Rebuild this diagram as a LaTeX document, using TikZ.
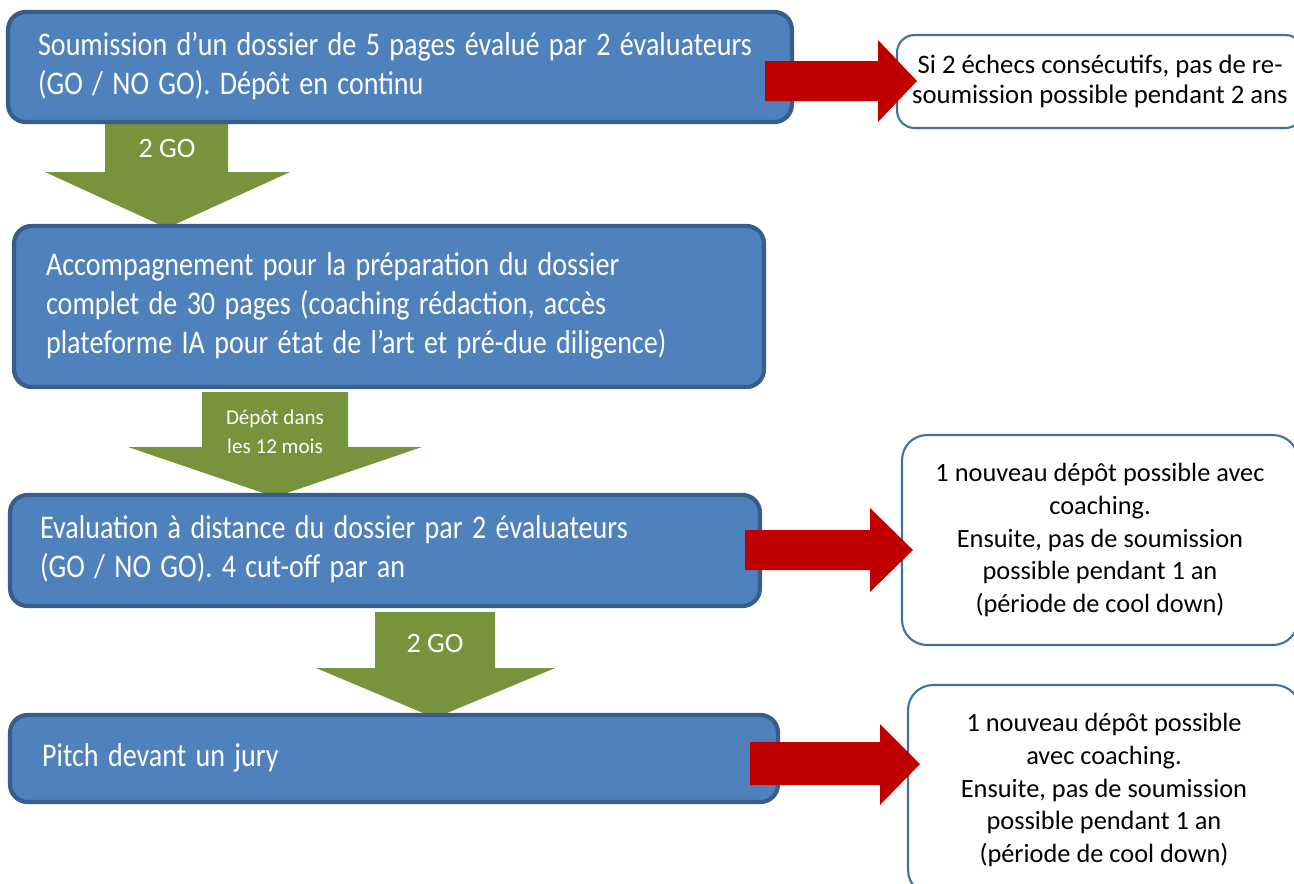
\documentclass[tikz,border=0pt]{standalone}
\usepackage{graphicx}
\usepackage{fontspec}
\setmainfont{Carlito}
\newcommand{\steptext}[1]{\scalebox{0.85}[1]{\renewcommand\arraystretch{1.03}\begin{tabular}{@{}l@{}}#1\end{tabular}}}
\usetikzlibrary{positioning}

\definecolor{stepblue}{HTML}{4F81BD}
\definecolor{stepborder}{HTML}{385D8A}
\definecolor{noteborder}{HTML}{41719C}
\definecolor{gogreen}{HTML}{77933C}
\definecolor{failred}{HTML}{C00000}

\begin{document}
\begin{tikzpicture}[
  x=0.02cm, y=-0.02cm,
  stepbox/.style={draw=stepborder, line width=2.4pt, fill=stepblue, rounded corners=0.35cm,
    text=white, align=left, inner xsep=0pt, font=\fontsize{18.8}{21.5}\selectfont},
  notebox/.style={draw=noteborder, line width=1.2pt, fill=white, rounded corners=0.5cm,
    align=center, font=\fontsize{15}{18.7}\selectfont},
  goarrow/.style={fill=gogreen},
  failarrow/.style={fill=failred},
  golabel/.style={text=white, align=center, font=\fontsize{16}{19}\selectfont}
]
\useasboundingbox (0,0) rectangle (1294,883);
\clip (0,0) rectangle (1294,883);

% Green arrows (behind the boxes)
\fill[goarrow] (105,115) -- (228,115) -- (228,172) -- (290,172) -- (167,228) -- (45,172) -- (105,172) -- cycle;
\fill[goarrow] (202,392) -- (348,392) -- (348,447) -- (422,447) -- (275,497) -- (128,447) -- (202,447) -- cycle;
\fill[goarrow] (375,612) -- (495,612) -- (495,668) -- (555,668) -- (435,718) -- (316,668) -- (375,668) -- cycle;
\node[golabel] (go1) at (167,148) {2 GO};
\node[golabel, font=\fontsize{12}{16.5}\selectfont] (go2) at (275,432) {Dépôt dans\\les 12 mois};
\node[golabel] (go3) at (435,643) {2 GO};

% Steps
\node[stepbox, minimum width=15.68cm, minimum height=2.2cm, text width=14.48cm] (s1) at (400,67)
  {\steptext{Soumission d’un dossier de 5 pages évalué par 2 évaluateurs\\(GO / NO GO). Dépôt en continu}};
\node[stepbox, minimum width=15cm, minimum height=3.22cm, text width=13.72cm] (s2) at (389,306.5)
  {\steptext{Accompagnement pour la préparation du dossier\\complet de 30 pages (coaching rédaction, accès\\plateforme IA pour état de l’art et pré-due diligence)}};
\node[stepbox, minimum width=15cm, minimum height=2.22cm, text width=13.8cm] (s3) at (385,550.5)
  {\steptext{Evaluation à distance du dossier par 2 évaluateurs\\(GO / NO GO). 4 cut-off par an}};
\node[stepbox, minimum width=15.36cm, minimum height=1.74cm, text width=14.08cm] (s4) at (394,758.5)
  {\steptext{Pitch devant un jury}};

% Outcomes
\node[notebox, rounded corners=0.35cm, minimum width=8.12cm, minimum height=1.86cm,
  font=\fontsize{15.2}{17.5}\selectfont] (r1) at (1100,81.5)
  {Si 2 échecs consécutifs, pas de re-\\soumission possible pendant 2 ans};
\node[notebox, minimum width=7.92cm, minimum height=4.2cm] (r2) at (1100,540)
  {1 nouveau dépôt possible avec\\coaching.\\Ensuite, pas de soumission\\possible pendant 1 an\\(période de cool down)};
\node[notebox, minimum width=7.84cm, minimum height=4.2cm] (r3) at (1104,790)
  {1 nouveau dépôt possible\\avec coaching.\\Ensuite, pas de soumission\\possible pendant 1 an\\(période de cool down)};

% Red arrows (on top)
\fill[failarrow] (765,61) -- (878,61) -- (878,40) -- (917,81) -- (878,122) -- (878,101) -- (765,101) -- cycle;
\fill[failarrow] (745,530) -- (870,530) -- (870,508) -- (913,550) -- (870,592) -- (870,570) -- (745,570) -- cycle;
\fill[failarrow] (750,742) -- (880,742) -- (880,724) -- (920,764) -- (880,805) -- (880,785) -- (750,785) -- cycle;

\end{tikzpicture}
\end{document}
